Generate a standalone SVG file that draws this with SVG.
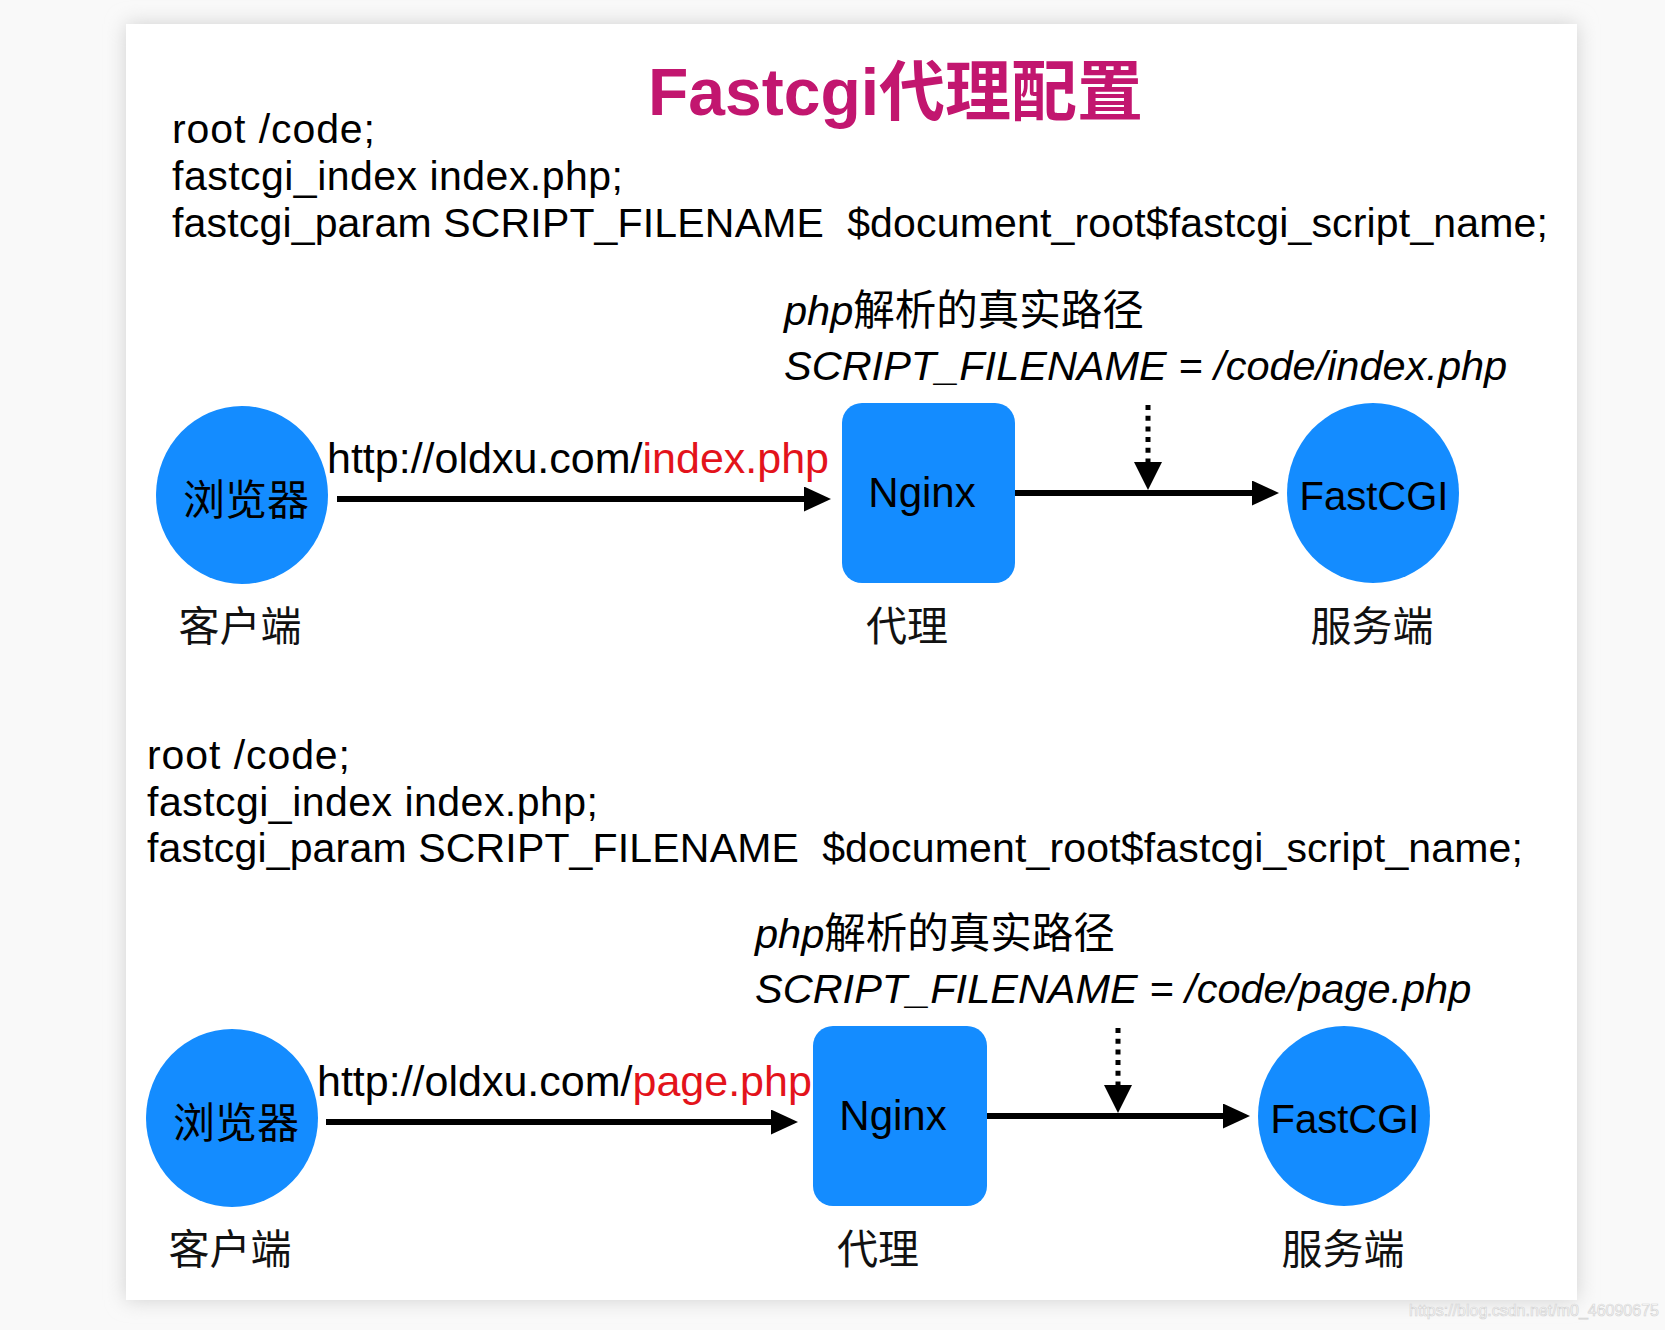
<svg xmlns="http://www.w3.org/2000/svg" width="1665" height="1330" viewBox="0 0 1665 1330">
<style>
.t{font-family:"Liberation Sans","Noto Sans CJK SC",sans-serif;fill:#000}
.code{font-size:41px}
.cn{font-family:"Liberation Sans","Noto Sans CJK SC",sans-serif;font-size:41px;fill:#111;text-anchor:middle}
.node{fill:#148cff}
.nl{font-family:"Liberation Sans","Noto Sans CJK SC",sans-serif;fill:#000;text-anchor:middle}
.red{fill:#e3131b}
.conn{stroke:#000;stroke-width:6;fill:none}
.dot{stroke:#000;stroke-width:5;stroke-dasharray:5 5.7;fill:none}
</style>
<defs>
<filter id="sh" x="-5%" y="-5%" width="110%" height="110%">
<feGaussianBlur stdDeviation="10"/>
</filter>
<marker id="ah" markerUnits="userSpaceOnUse" markerWidth="27" markerHeight="25" refX="7" refY="12.5" orient="auto">
<path d="M0,0 L27,12.5 L0,25 z" fill="#000"/>
</marker>
<marker id="ahd" markerUnits="userSpaceOnUse" markerWidth="28" markerHeight="28" refX="8" refY="14" orient="auto">
<path d="M0,0 L28,14 L0,28 z" fill="#000"/>
</marker>
</defs>
<rect x="0" y="0" width="1665" height="1330" fill="#f9f9f9"/>
<rect x="126" y="24" width="1451" height="1276" fill="#d0d0d0" filter="url(#sh)"/>
<rect x="126" y="24" width="1451" height="1276" fill="#ffffff"/>

<text x="648" y="115" font-family="'Liberation Sans','Noto Sans CJK SC',sans-serif" font-size="66" font-weight="bold" fill="#c2166f">Fastcgi代理配置</text>

<g id="config1" class="t code">
<text x="172" y="143" textLength="203">root /code;</text>
<text x="172" y="190" textLength="451">fastcgi_index index.php;</text>
<text x="172" y="237" textLength="1376">fastcgi_param SCRIPT_FILENAME &#160;$document_root$fastcgi_script_name;</text>
</g>

<g id="note1" class="t" font-size="41.5">
<text x="784" y="325"><tspan font-style="italic">php</tspan>解析的真实路径</text>
<text x="784" y="380" font-style="italic">SCRIPT_FILENAME = /code/index.php</text>
</g>

<g id="connectors1">
<line class="conn" x1="337" y1="499" x2="811" y2="499" marker-end="url(#ah)"/>
<line class="conn" x1="1015" y1="493" x2="1259" y2="493" marker-end="url(#ah)"/>
<line class="dot" x1="1148" y1="405" x2="1148" y2="470" marker-end="url(#ahd)"/>
<text class="t" x="327" y="473" font-size="43">http://oldxu.com/<tspan class="red">index.php</tspan></text>
</g>

<g id="browser1">
<ellipse class="node" cx="242" cy="495" rx="86" ry="89"/>
<text class="nl" x="246" y="515" font-size="42">浏览器</text>
<text class="cn" x="240" y="641">客户端</text>
</g>
<g id="nginx1">
<rect class="node" x="842" y="403" width="173" height="180" rx="20"/>
<text class="nl" x="922" y="507" font-size="42">Nginx</text>
<text class="cn" x="907" y="641">代理</text>
</g>
<g id="fastcgi1">
<ellipse class="node" cx="1373" cy="493" rx="86" ry="90"/>
<text class="nl" x="1374" y="510" font-size="40">FastCGI</text>
<text class="cn" x="1372" y="641">服务端</text>
</g>

<g id="config2" class="t code">
<text x="147" y="769" textLength="203">root /code;</text>
<text x="147" y="816" textLength="451">fastcgi_index index.php;</text>
<text x="147" y="862" textLength="1376">fastcgi_param SCRIPT_FILENAME &#160;$document_root$fastcgi_script_name;</text>
</g>

<g id="note2" class="t" font-size="41.5">
<text x="755" y="948"><tspan font-style="italic">php</tspan>解析的真实路径</text>
<text x="755" y="1003" font-style="italic">SCRIPT_FILENAME = /code/page.php</text>
</g>

<g id="connectors2">
<line class="conn" x1="326" y1="1122" x2="778" y2="1122" marker-end="url(#ah)"/>
<line class="conn" x1="987" y1="1116" x2="1230" y2="1116" marker-end="url(#ah)"/>
<line class="dot" x1="1118" y1="1028" x2="1118" y2="1093" marker-end="url(#ahd)"/>
<text class="t" x="317" y="1096" font-size="43">http://oldxu.com/<tspan class="red">page.php</tspan></text>
</g>

<g id="browser2">
<ellipse class="node" cx="232" cy="1118" rx="86" ry="89"/>
<text class="nl" x="236" y="1138" font-size="42">浏览器</text>
<text class="cn" x="230" y="1264">客户端</text>
</g>
<g id="nginx2">
<rect class="node" x="813" y="1026" width="174" height="180" rx="20"/>
<text class="nl" x="893" y="1130" font-size="42">Nginx</text>
<text class="cn" x="878" y="1264">代理</text>
</g>
<g id="fastcgi2">
<ellipse class="node" cx="1344" cy="1116" rx="86" ry="90"/>
<text class="nl" x="1345" y="1133" font-size="40">FastCGI</text>
<text class="cn" x="1343" y="1264">服务端</text>
</g>

<text x="1409" y="1316" font-family="'Liberation Sans',sans-serif" font-size="16" fill="#ffffff" stroke="#d4d4d4" stroke-width="0.7">https://blog.csdn.net/m0_46090675</text>
</svg>
